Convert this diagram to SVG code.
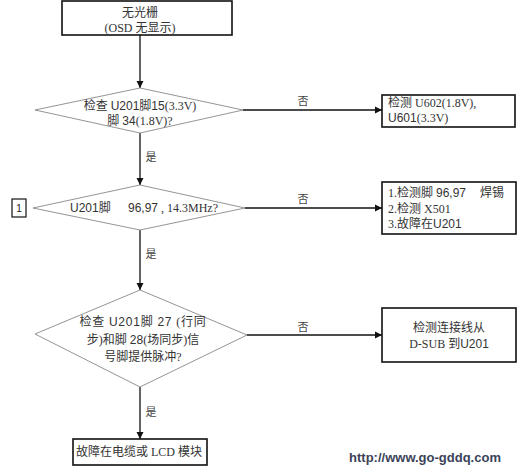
<svg xmlns="http://www.w3.org/2000/svg" width="524" height="472" viewBox="0 0 524 472">
<defs>
<marker id="ah" markerWidth="8" markerHeight="8" refX="7" refY="4" orient="auto" markerUnits="userSpaceOnUse">
<path d="M0,0.5 L7,4 L0,7.5 Z" fill="#111"/>
</marker>
<style>
.box{fill:#fff;stroke:#111;stroke-width:1.6}
.dia{fill:#fff;stroke:#888;stroke-width:0.9}
.con{stroke:#111;stroke-width:1.3;fill:none;marker-end:url(#ah)}
.t{font-family:"Liberation Serif","Noto Sans CJK SC",serif;font-size:12px;fill:#333}
.s{font-family:"Liberation Sans","Noto Sans CJK SC",sans-serif}
.c{text-anchor:middle}
.lbl{font-family:"Liberation Serif","Noto Sans CJK SC",serif;font-size:11px;fill:#444}
.wm{font-family:"Liberation Sans",sans-serif;font-size:13px;font-weight:bold;fill:#3a4258}
</style>
</defs>
<rect width="524" height="472" fill="#fff"/>
<g id="connectors">
<line class="con" x1="140" y1="35" x2="140" y2="88"/>
<line class="con" x1="140" y1="133" x2="140" y2="185"/>
<line class="con" x1="140" y1="230" x2="140" y2="290"/>
<line class="con" x1="140" y1="387" x2="140" y2="439"/>
<line class="con" x1="243" y1="110" x2="382" y2="110"/>
<line class="con" x1="245" y1="208" x2="382" y2="208"/>
<line class="con" x1="247" y1="335" x2="382" y2="335"/>
<text class="lbl c" x="303" y="105">否</text>
<text class="lbl c" x="303" y="203">否</text>
<text class="lbl c" x="303" y="331">否</text>
<text class="lbl c" x="151" y="161">是</text>
<text class="lbl c" x="151" y="258">是</text>
<text class="lbl c" x="151" y="416">是</text>
</g>
<g id="start">
<rect class="box" x="62" y="1" width="170" height="34"/>
<text class="t c" x="140" y="17">无光栅</text>
<text class="t c" x="140" y="32">(OSD 无显示)</text>
</g>
<g id="d1">
<polygon class="dia" points="140,88 243,110 140,133 35,110"/>
<text class="t c" x="140" y="110"><tspan>检查 </tspan><tspan class="s">U201</tspan><tspan>脚</tspan><tspan class="s">15</tspan><tspan>(3.3V)</tspan></text>
<text class="t c" x="140" y="125"><tspan>脚 </tspan><tspan class="s">34</tspan><tspan>(1.8V)?</tspan></text>
</g>
<g id="n2">
<rect class="box" x="382" y="95" width="133" height="32"/>
<text class="t" x="388" y="107">检测 U602(1.8V),</text>
<text class="t" x="388" y="122"><tspan class="s">U601</tspan><tspan>(3.3V)</tspan></text>
</g>
<g id="tag1">
<rect x="12" y="199" width="14" height="18" fill="#fff" stroke="#111" stroke-width="1.2"/>
<text class="s c" x="19" y="212" font-size="10" fill="#222">1</text>
</g>
<g id="d2">
<polygon class="dia" points="140,185 245,208 140,230 33,208"/>
<text class="t" x="70" y="212"><tspan class="s">U201</tspan><tspan>脚</tspan><tspan class="s" x="128">96,97</tspan><tspan> , 14.3MHz?</tspan></text>
</g>
<g id="n3">
<rect class="box" x="382" y="182" width="134" height="52"/>
<text class="t" x="388" y="197"><tspan>1.检测脚 </tspan><tspan class="s">96,97</tspan><tspan x="480">焊锡</tspan></text>
<text class="t" x="388" y="213">2.检测 X501</text>
<text class="t" x="388" y="228"><tspan>3.故障在</tspan><tspan class="s">U201</tspan></text>
</g>
<g id="d3">
<polygon class="dia" points="140,290 247,335 140,387 35,334"/>
<text class="t c" x="143" y="326" letter-spacing="0.8"><tspan>检查 </tspan><tspan class="s">U201</tspan><tspan>脚 </tspan><tspan class="s">27</tspan><tspan> (行同</tspan></text>
<text class="t c" x="143" y="344"><tspan>步)和脚 </tspan><tspan class="s">28</tspan><tspan>(场同步)信</tspan></text>
<text class="t c" x="143" y="361">号脚提供脉冲?</text>
</g>
<g id="n4">
<rect class="box" x="382" y="308" width="134" height="54"/>
<text class="t c" x="449" y="332">检测连接线从</text>
<text class="t c" x="449" y="348"><tspan>D-SUB 到</tspan><tspan class="s">U201</tspan></text>
</g>
<g id="end">
<rect class="box" x="73" y="439" width="134" height="26"/>
<text class="t c" x="139" y="456">故障在电缆或 LCD 模块</text>
</g>
<text class="wm" x="425" y="462" text-anchor="middle">http://www.go-gddq.com</text>
</svg>
